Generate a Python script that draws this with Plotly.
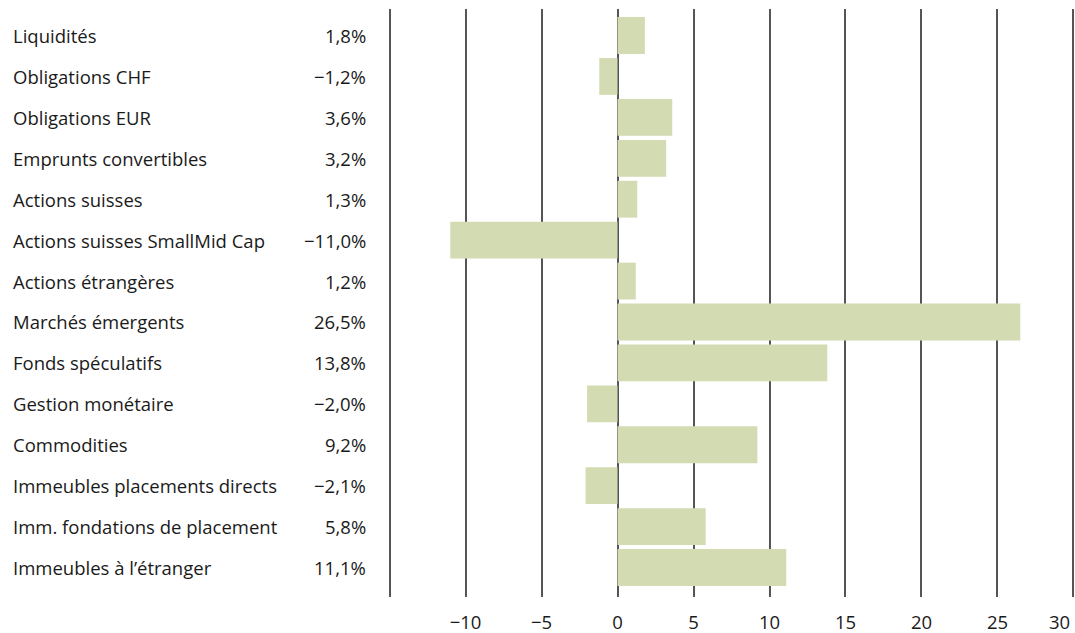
import plotly.graph_objects as go

categories = [
    "Liquidités", "Obligations CHF", "Obligations EUR", "Emprunts convertibles",
    "Actions suisses", "Actions suisses SmallMid Cap", "Actions étrangères",
    "Marchés émergents", "Fonds spéculatifs", "Gestion monétaire", "Commodities",
    "Immeubles placements directs", "Imm. fondations de placement",
    "Immeubles à l’étranger",
]
values = [1.8, -1.2, 3.6, 3.2, 1.3, -11.0, 1.2, 26.5, 13.8, -2.0, 9.2, -2.1, 5.8, 11.1]
value_labels = ["1,8%", "−1,2%", "3,6%", "3,2%", "1,3%", "−11,0%", "1,2%", "26,5%",
                "13,8%", "−2,0%", "9,2%", "−2,1%", "5,8%", "11,1%"]
tick_vals = [-15, -10, -5, 0, 5, 10, 15, 20, 25, 30]
tick_text = ["", "−10", "−5", "0", "5", "10", "15", "20", "25", "30"]

FONT = "Open Sans"
FS = 18.5
W, H = 1075, 633
L, R, T, B = 388, 0, 9, 36
pw = W - L - R

fig = go.Figure(go.Bar(
    x=values, y=categories, orientation="h", width=0.9,
    marker=dict(color="#d2dbb2", line=dict(width=0)),
    hoverinfo="x+y",
))

ann = []
for c, v in zip(categories, value_labels):
    ann.append(dict(x=(11 - L) / pw, y=c, xref="paper", yref="y", text=c,
                    showarrow=False, xanchor="left", yanchor="middle",
                    font=dict(family=FONT, size=FS, color="#1a1a1a")))
    ann.append(dict(x=(368 - L) / pw, y=c, xref="paper", yref="y", text=v,
                    showarrow=False, xanchor="right", yanchor="middle",
                    font=dict(family=FONT, size=FS, color="#1a1a1a")))

# last tick label sits inside the page, right-aligned to its gridline
ann.append(dict(x=tick_vals[-1], y=0, xref="x", yref="paper", text=tick_text[-1],
                showarrow=False, xanchor="right", yanchor="middle", xshift=-1,
                yshift=-24, font=dict(family=FONT, size=FS, color="#1a1a1a")))
axis_text = tick_text[:-1] + [""]

fig.update_layout(
    width=W, height=H,
    margin=dict(l=L, r=R, t=T, b=B, pad=0),
    paper_bgcolor="white", plot_bgcolor="white",
    showlegend=False,
    annotations=ann,
    xaxis=dict(range=[-15.1, 30.1], tickvals=tick_vals, ticktext=axis_text,
               showgrid=True, gridcolor="#555555", gridwidth=1.5,
               zeroline=False, showline=False, ticks="",
               ticklabelstandoff=12,
               tickfont=dict(family=FONT, size=FS, color="#1a1a1a")),
    yaxis=dict(type="category", range=[13.72, -0.648], showticklabels=False,
               showgrid=False, zeroline=False, showline=False, ticks=""),
)

fig.write_html("out.html", config={"displayModeBar": False},
               post_script="document.body.style.margin='0';")
